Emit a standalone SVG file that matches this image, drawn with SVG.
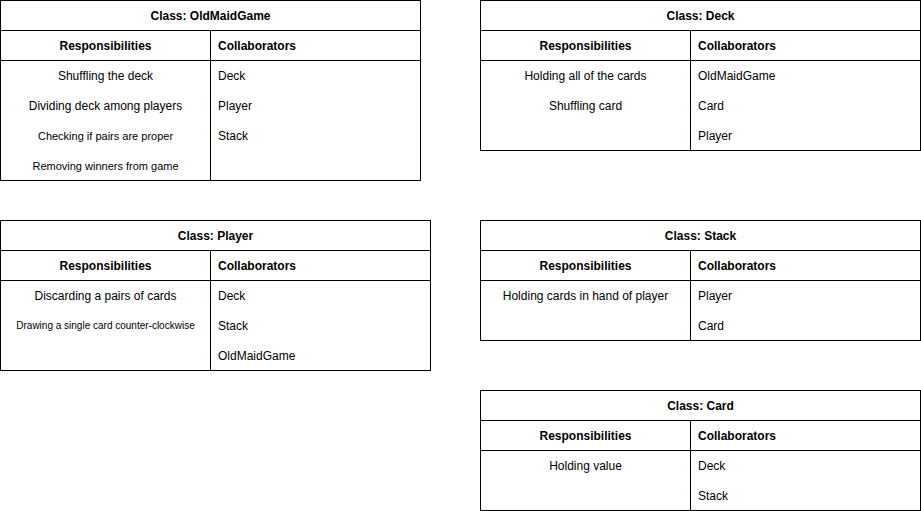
<svg xmlns="http://www.w3.org/2000/svg" width="921" height="511" viewBox="0 0 921 511">
<style>
.b{fill:#ffffff;stroke:#000000;stroke-width:1}
.l{stroke:#000000;stroke-width:1;fill:none}
text{font-family:"Liberation Sans",Arial,sans-serif;fill:#000000;font-size:12px}
.h{font-weight:bold;text-anchor:middle}
.hl{font-weight:bold}
.c{text-anchor:middle}
.s11{font-size:11px}
.s10{font-size:10px}
</style>
<rect width="921" height="511" fill="#ffffff"/>
<g id="OldMaidGame">
<rect class="b" x="0.5" y="0.5" width="420" height="180"/>
<path class="l" d="M0.5 30.5H420.5M0.5 60.5H420.5M210.5 30.5V180.5"/>
<text class="h" x="210.5" y="19.5">Class: OldMaidGame</text>
<text class="h" x="105.5" y="49.5">Responsibilities</text>
<text class="hl" x="218" y="49.5">Collaborators</text>
<text class="c" x="105.5" y="79.5">Shuffling the deck</text>
<text class="c" x="105.5" y="109.5">Dividing deck among players</text>
<text class="c s11" x="105.5" y="139.5">Checking if pairs are proper</text>
<text class="c s11" x="105.5" y="169.5">Removing winners from game</text>
<text x="218" y="79.5">Deck</text>
<text x="218" y="109.5">Player</text>
<text x="218" y="139.5">Stack</text>
</g>
<g id="Deck">
<rect class="b" x="480.5" y="0.5" width="440" height="150"/>
<path class="l" d="M480.5 30.5H920.5M480.5 60.5H920.5M690.5 30.5V150.5"/>
<text class="h" x="700.5" y="19.5">Class: Deck</text>
<text class="h" x="585.5" y="49.5">Responsibilities</text>
<text class="hl" x="698" y="49.5">Collaborators</text>
<text class="c" x="585.5" y="79.5">Holding all of the cards</text>
<text class="c" x="585.5" y="109.5">Shuffling card</text>
<text x="698" y="79.5">OldMaidGame</text>
<text x="698" y="109.5">Card</text>
<text x="698" y="139.5">Player</text>
</g>
<g id="Player">
<rect class="b" x="0.5" y="220.5" width="430" height="150"/>
<path class="l" d="M0.5 250.5H430.5M0.5 280.5H430.5M210.5 250.5V370.5"/>
<text class="h" x="215.5" y="239.5">Class: Player</text>
<text class="h" x="105.5" y="269.5">Responsibilities</text>
<text class="hl" x="218" y="269.5">Collaborators</text>
<text class="c" x="105.5" y="299.5">Discarding a pairs of cards</text>
<text class="c s10" x="105.5" y="329">Drawing a single card counter-clockwise</text>
<text x="218" y="299.5">Deck</text>
<text x="218" y="329.5">Stack</text>
<text x="218" y="359.5">OldMaidGame</text>
</g>
<g id="Stack">
<rect class="b" x="480.5" y="220.5" width="440" height="120"/>
<path class="l" d="M480.5 250.5H920.5M480.5 280.5H920.5M690.5 250.5V340.5"/>
<text class="h" x="700.5" y="239.5">Class: Stack</text>
<text class="h" x="585.5" y="269.5">Responsibilities</text>
<text class="hl" x="698" y="269.5">Collaborators</text>
<text class="c" x="585.5" y="299.5">Holding cards in hand of player</text>
<text x="698" y="299.5">Player</text>
<text x="698" y="329.5">Card</text>
</g>
<g id="Card">
<rect class="b" x="480.5" y="390.5" width="440" height="120"/>
<path class="l" d="M480.5 420.5H920.5M480.5 450.5H920.5M690.5 420.5V510.5"/>
<text class="h" x="700.5" y="409.5">Class: Card</text>
<text class="h" x="585.5" y="439.5">Responsibilities</text>
<text class="hl" x="698" y="439.5">Collaborators</text>
<text class="c" x="585.5" y="469.5">Holding value</text>
<text x="698" y="469.5">Deck</text>
<text x="698" y="499.5">Stack</text>
</g>
<g id="connectors"></g>
</svg>
